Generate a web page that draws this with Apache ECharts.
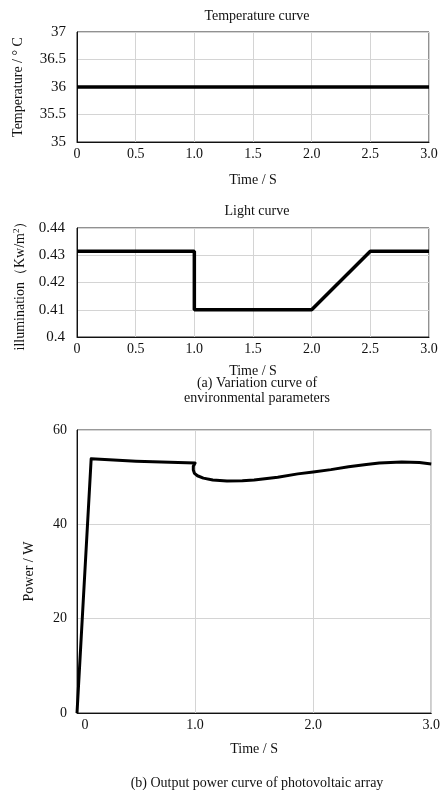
<!DOCTYPE html>
<html>
<head>
<meta charset="utf-8">
<script src="https://cdn.jsdelivr.net/npm/echarts@6/dist/echarts.min.js"></script>
<style>
  html, body { margin: 0; padding: 0; background: #fff; }
  #chart { width: 443px; height: 790px; }
</style>
</head>
<body>
<div id="chart"></div>
<script>
// temperature curve
const tempTime = [0, 3]
const tempValue = [36, 36]

// light curve
const lightTime = [0, 1, 1, 2, 2.5, 3]
const lightValue = [0.4315, 0.4315, 0.41, 0.41, 0.4315, 0.4315]

// output power of PV array
const powerTime = [0, 0.12, 0.5, 1.0, 0.985, 0.985, 0.995, 1.02, 1.07, 1.15, 1.27, 1.4, 1.5, 1.7, 1.87, 2.0, 2.15, 2.3, 2.45, 2.56, 2.75, 2.9, 3.0]
const powerValue = [0, 53.9, 53.4, 53.0, 52.3, 51.5, 50.8, 50.3, 49.8, 49.4, 49.2, 49.25, 49.4, 50.0, 50.7, 51.1, 51.6, 52.2, 52.7, 53.0, 53.2, 53.1, 52.8]

const FONT = '"Liberation Serif", "Times New Roman", serif'
const TXT = { fontFamily: FONT, fontSize: 14, color: '#111' }

function pairs(xs, ys) {
  return xs.map((x, i) => [x, ys[i]])
}

function xAx(gridIndex, interval, nameGap, extra) {
  return Object.assign({
    type: 'value', gridIndex, min: 0, max: 3, interval,
    name: 'Time / S', nameLocation: 'middle', nameGap,
    nameTextStyle: TXT,
    axisLine: { show: true, lineStyle: { color: '#111', width: 1 } },
    axisTick: { show: false },
    axisLabel: Object.assign({ margin: 5, formatter: v => v === 0 ? '0' : v.toFixed(1) }, TXT),
    splitLine: { show: true, lineStyle: { color: '#d4d4d4', width: 1 } },
  }, extra || {})
}

function yAx(gridIndex, min, max, interval, name, nameGap, extra) {
  return Object.assign({
    type: 'value', gridIndex, min, max, interval,
    name, nameLocation: 'middle', nameGap,
    nameTextStyle: Object.assign({}, TXT, { fontSize: 14 }),
    axisLine: { show: true, lineStyle: { color: '#111', width: 1 } },
    axisTick: { show: false },
    axisLabel: Object.assign({ margin: 11 }, TXT, { fontSize: 15 }),
    splitLine: { show: true, lineStyle: { color: '#d4d4d4', width: 1 } },
  }, extra || {})
}

const chart = echarts.init(document.getElementById('chart'))
chart.setOption({
  animation: false,
  backgroundColor: '#fff',
  grid: [
    { left: 77, right: 14, top: 32, height: 110, show: true, borderColor: '#222', borderWidth: 1 },
    { left: 77, right: 14, top: 228, height: 109, show: true, borderColor: '#222', borderWidth: 1 },
    { left: 77, right: 11, top: 430, height: 283, show: true, borderColor: '#333', borderWidth: 1 },
  ],
  xAxis: [
    xAx(0, 0.5, 31),
    xAx(1, 0.5, 27),
    xAx(2, 1, 29, {
      axisLabel: Object.assign({
        margin: 5,
        formatter: v => v === 0 ? '{z|0}' : v.toFixed(1),
        rich: { z: { fontFamily: FONT, fontSize: 14, color: '#111', padding: [0, 0, 0, 16] } },
      }, TXT),
    }),
  ],
  yAxis: [
    yAx(0, 35, 37, 0.5, 'Temperature / ° C', 52, {
      axisLabel: Object.assign({ margin: 11, formatter: v => String(v) }, TXT, { fontSize: 15 }),
    }),
    yAx(1, 0.4, 0.44, 0.01, 'illumination（Kw/m{sup|2}）', 48, {
      nameTextStyle: Object.assign({}, TXT, {
        fontSize: 14,
        rich: { sup: { fontFamily: FONT, fontSize: 9, color: '#111', verticalAlign: 'top', padding: [0, 0, 8, 0] } },
      }),
      axisLabel: Object.assign({ margin: 12, formatter: v => String(+v.toFixed(2)) }, TXT, { fontSize: 15 }),
    }),
    yAx(2, 0, 60, 20, 'Power / W', 41, {
      axisLabel: Object.assign({ margin: 10 }, TXT, { fontSize: 14 }),
    }),
  ],
  graphic: [
    { type: 'text', x: 257, y: 16, style: { text: 'Temperature curve', font: '14px ' + FONT, fill: '#111', align: 'center', verticalAlign: 'middle' } },
    { type: 'text', x: 257, y: 211, style: { text: 'Light curve', font: '14px ' + FONT, fill: '#111', align: 'center', verticalAlign: 'middle' } },
    { type: 'text', x: 257, y: 383, style: { text: '(a) Variation curve of', font: '14px ' + FONT, fill: '#111', align: 'center', verticalAlign: 'middle' } },
    { type: 'text', x: 257, y: 398, style: { text: 'environmental parameters', font: '14px ' + FONT, fill: '#111', align: 'center', verticalAlign: 'middle' } },
    { type: 'text', x: 257, y: 783, style: { text: '(b) Output power curve of photovoltaic array', font: '14px ' + FONT, fill: '#111', align: 'center', verticalAlign: 'middle' } },
  ],
  series: [
    {
      type: 'line', xAxisIndex: 0, yAxisIndex: 0, data: pairs(tempTime, tempValue),
      showSymbol: false, lineStyle: { color: '#000', width: 3.5 },
    },
    {
      type: 'line', xAxisIndex: 1, yAxisIndex: 1, data: pairs(lightTime, lightValue),
      showSymbol: false, lineStyle: { color: '#000', width: 3.5 },
    },
    {
      type: 'line', xAxisIndex: 2, yAxisIndex: 2, data: pairs(powerTime, powerValue),
      showSymbol: false, lineStyle: { color: '#000', width: 3, join: 'round' },
    },
  ],
})
</script>
</body>
</html>
